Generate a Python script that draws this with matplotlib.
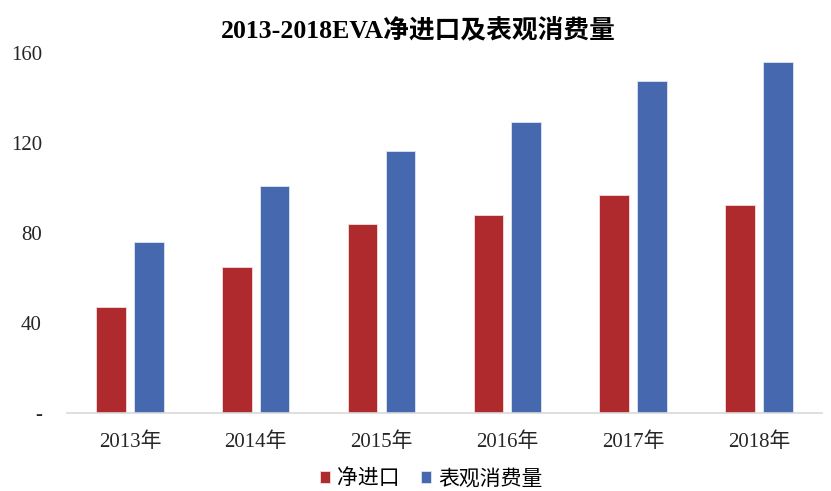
import numpy as np
import matplotlib.pyplot as plt

years = ["2013年", "2014年", "2015年", "2016年", "2017年", "2018年"]
net_import = [47, 65, 84, 88, 97, 92.5]
consumption = [76, 101, 116.5, 129.5, 147.5, 156]
yticks = [0, 40, 80, 120, 160]
ytick_labels = ["-", "40", "80", "120", "160"]

plt.rcParams['font.family'] = ['Liberation Serif', 'Noto Sans CJK SC']

fig = plt.figure(figsize=(8.31, 4.91), dpi=100)
ax = fig.add_axes([0.0806, 0.159, 0.9084, 0.733])

x = np.arange(len(years))
w = 0.235
ax.bar(x - 0.15, net_import, w, color='#AE2A2C', edgecolor='#f3dede', linewidth=0.6, label='净进口')
ax.bar(x + 0.15, consumption, w, color='#4568AE', edgecolor='#dfe6f3', linewidth=0.6, label='表观消费量')

ax.set_xlim(-0.5, len(years) - 0.5)
ax.set_ylim(0, 160)
ax.set_xticks(x)
ax.set_xticklabels(years, fontsize=15, color='#262626')
ax.set_yticks(yticks)
ax.set_yticklabels(ytick_labels, fontsize=15, color='#262626')
ax.tick_params(axis='both', length=0)
ax.tick_params(axis='x', pad=14)
ax.tick_params(axis='y', pad=18)
for s in ['top', 'right', 'left']:
    ax.spines[s].set_visible(False)
ax.spines['bottom'].set_color('#d9d9d9')
ax.spines['bottom'].set_linewidth(1.2)

fig.suptitle('2013-2018EVA净进口及表观消费量', x=0.503, y=0.965, fontsize=18.5, fontweight='bold')

fig.legend(loc='center', bbox_to_anchor=(0.519, 0.024), ncol=2, frameon=False, borderpad=0,
           fontsize=15, handlelength=0.5, handleheight=0.5, handletextpad=0.35, columnspacing=1.0)

fig.savefig('out.png', dpi=100)
